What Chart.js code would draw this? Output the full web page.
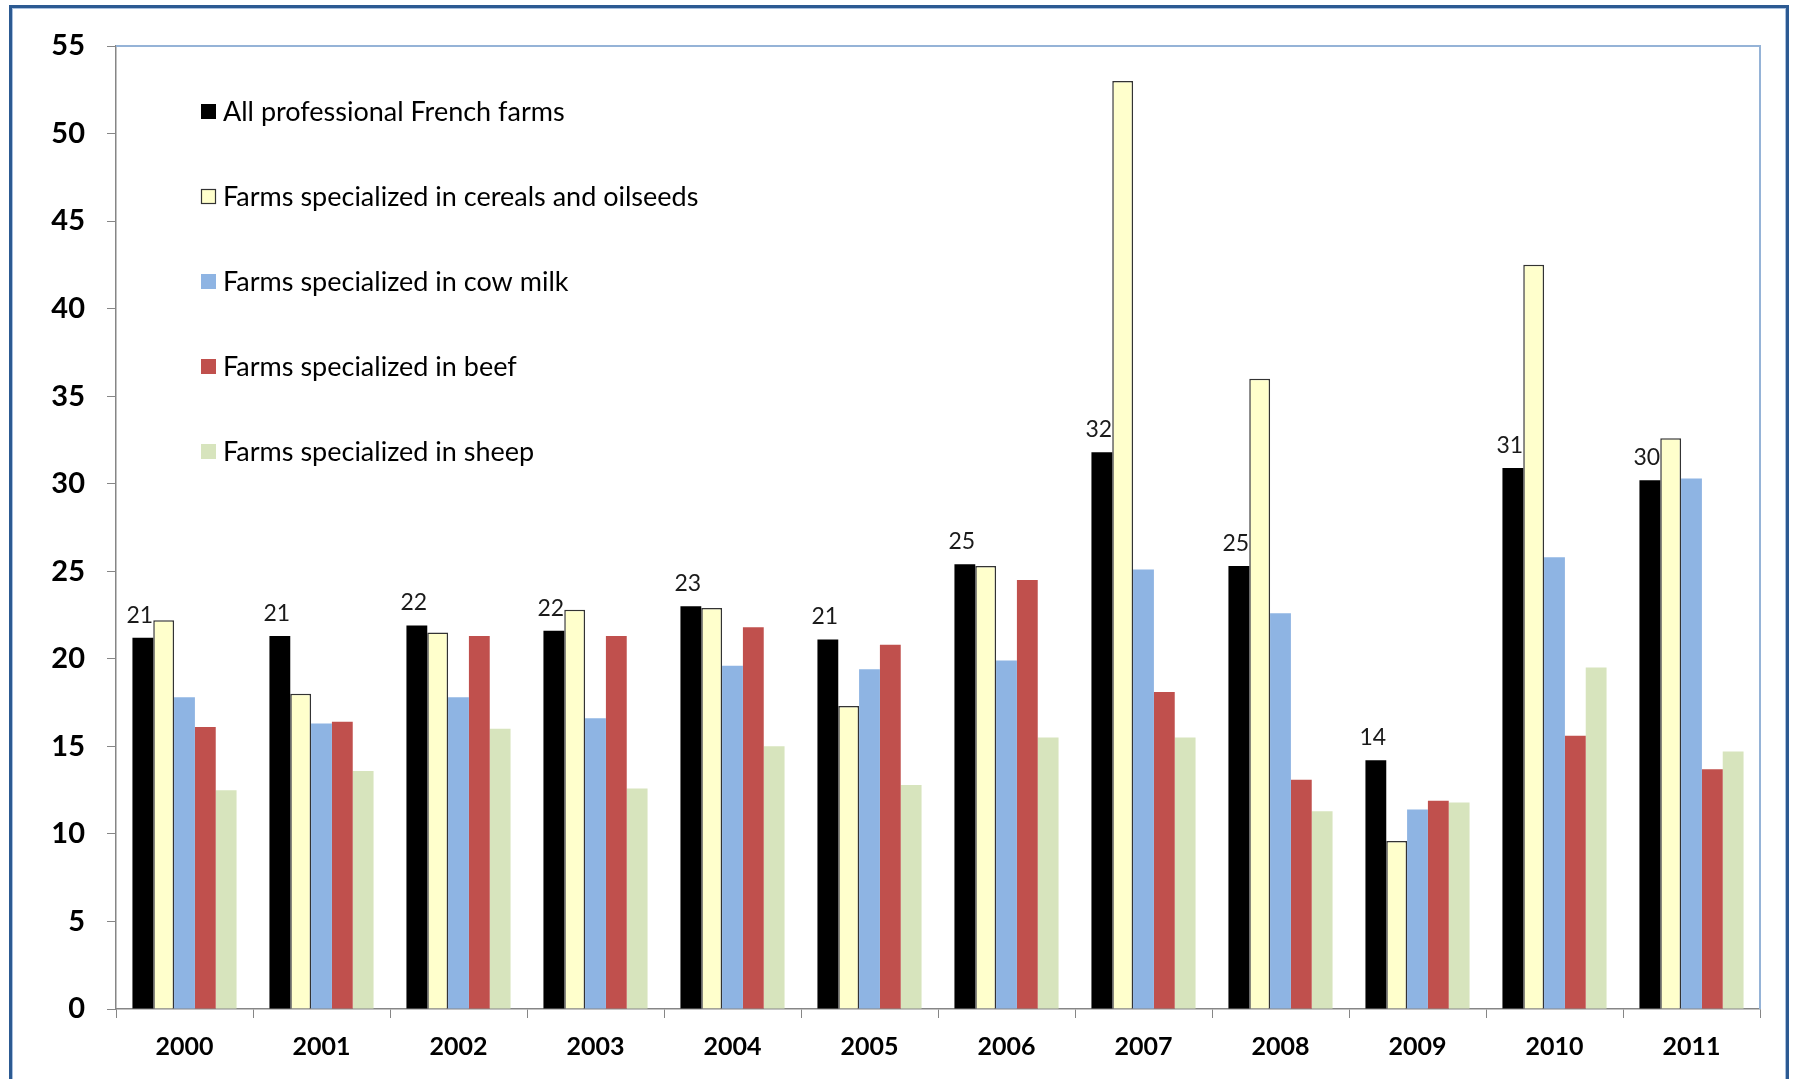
<!DOCTYPE html>
<html>
<head>
<meta charset="utf-8">
<script src="https://cdn.jsdelivr.net/npm/chart.js@4.4.1/dist/chart.umd.min.js"></script>
<style>
  html, body { margin: 0; padding: 0; background: #fff; overflow: hidden; }
  #frame {
    position: absolute; left: 9px; top: 5px; width: 1774px; height: 1100px;
    border: 3px solid #2C5A92; border-bottom: none;
    box-shadow: inset 0 0 0 1px #A9C0DE;
  }
  #chart { position: absolute; left: 0; top: 0; }
</style>
</head>
<body>
<div id="frame"></div>
<canvas id="chart" width="1795" height="1079"></canvas>
<script>
const years = ["2000", "2001", "2002", "2003", "2004", "2005", "2006", "2007", "2008", "2009", "2010", "2011"];
const seriesNames = [
  "All professional French farms",
  "Farms specialized in cereals and oilseeds",
  "Farms specialized in cow milk",
  "Farms specialized in beef",
  "Farms specialized in sheep"
];
const allFarms = [21.2, 21.3, 21.9, 21.6, 23.0, 21.1, 25.4, 31.8, 25.3, 14.2, 30.9, 30.2];
const cereals  = [22.2, 18.0, 21.5, 22.8, 22.9, 17.3, 25.3, 53.0, 36.0,  9.6, 42.5, 32.6];
const cowMilk  = [17.8, 16.3, 17.8, 16.6, 19.6, 19.4, 19.9, 25.1, 22.6, 11.4, 25.8, 30.3];
const beef     = [16.1, 16.4, 21.3, 21.3, 21.8, 20.8, 24.5, 18.1, 13.1, 11.9, 15.6, 13.7];
const sheep    = [12.5, 13.6, 16.0, 12.6, 15.0, 12.8, 15.5, 15.5, 11.3, 11.8, 19.5, 14.7];
const allFarmsLabels = ["21", "21", "22", "22", "23", "21", "25", "32", "25", "14", "31", "30"];
const yTicks = [0, 5, 10, 15, 20, 25, 30, 35, 40, 45, 50, 55];

const colors = ["#000000", "#FFFFCC", "#8EB4E3", "#C0504D", "#D7E4BD"];
const font = "Lato, 'Open Sans', sans-serif";

const plotFrame = {
  id: "plotFrame",
  afterDraw(chart) {
    const { ctx, chartArea: a } = chart;
    ctx.save();
    ctx.strokeStyle = "#95B3D7";
    ctx.lineWidth = 2;
    ctx.beginPath();
    ctx.moveTo(a.left, a.top);
    ctx.lineTo(a.right, a.top);
    ctx.lineTo(a.right, a.bottom);
    ctx.stroke();
    ctx.restore();
  }
};

const barLabels = {
  id: "barLabels",
  afterDatasetsDraw(chart) {
    const { ctx } = chart;
    const meta = chart.getDatasetMeta(0);
    ctx.save();
    ctx.font = "23px " + font;
    ctx.fillStyle = "#1a1a1a";
    ctx.textAlign = "center";
    ctx.textBaseline = "bottom";
    meta.data.forEach((bar, i) => {
      ctx.fillText(allFarmsLabels[i], bar.x - 3, bar.y - 11);
    });
    ctx.restore();
  }
};

const insideLegend = {
  id: "insideLegend",
  afterDraw(chart) {
    const { ctx, chartArea: a } = chart;
    ctx.save();
    ctx.font = "27px " + font;
    ctx.textBaseline = "middle";
    chart.data.datasets.forEach((ds, i) => {
      const y = a.top + 65 + i * 85;
      const x = a.left + 85;
      ctx.fillStyle = ds.backgroundColor;
      ctx.fillRect(x, y - 7, 15, 15);
      if (ds.borderWidth) {
        ctx.strokeStyle = "#333";
        ctx.lineWidth = 1.2;
        ctx.strokeRect(x + 0.5, y - 6.5, 14, 14);
      }
      ctx.fillStyle = "#000";
      ctx.fillText(ds.label, x + 22, y + 1);
    });
    ctx.restore();
  }
};

const seriesData = [allFarms, cereals, cowMilk, beef, sheep];

new Chart(document.getElementById("chart"), {
  type: "bar",
  data: {
    labels: years,
    datasets: seriesData.map((values, i) => ({
      label: seriesNames[i],
      data: values,
      backgroundColor: colors[i],
      borderColor: i === 1 ? "#333333" : colors[i],
      borderWidth: i === 1 ? 1.5 : 0,
      categoryPercentage: 0.76,
      barPercentage: 1.0
    }))
  },
  options: {
    responsive: false,
    animation: false,
    layout: { padding: { left: 0, top: 46, right: 35, bottom: 0 } },
    plugins: {
      legend: { display: false },
      tooltip: { enabled: false }
    },
    scales: {
      x: {
        grid: { drawOnChartArea: false, tickLength: 9, color: "#868686", offset: true },
        border: { color: "#868686", width: 1.5 },
        ticks: { color: "#000", font: { family: font, size: 25, weight: "bold" }, padding: 14 },
        afterFit(scale) { scale.height = 70; }
      },
      y: {
        min: 0,
        max: 55,
        afterBuildTicks(scale) { scale.ticks = yTicks.map(v => ({ value: v })); },
        grid: { drawOnChartArea: false, tickLength: 9, color: "#868686" },
        border: { color: "#868686", width: 1.5 },
        ticks: { color: "#000", font: { family: font, size: 29, weight: "bold" }, padding: 22 },
        afterFit(scale) { scale.width = 116; }
      }
    }
  },
  plugins: [plotFrame, barLabels, insideLegend]
});
</script>
</body>
</html>
